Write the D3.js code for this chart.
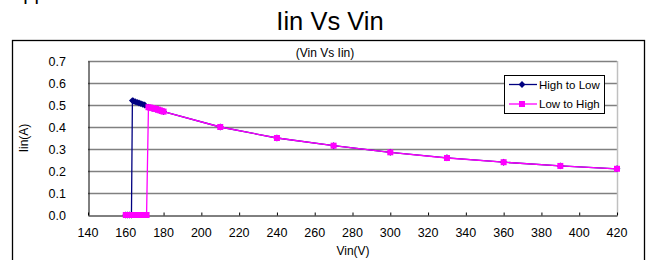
<!DOCTYPE html>
<html>
<head>
<meta charset="utf-8">
<script src="https://cdn.jsdelivr.net/npm/d3@7"></script>
<style>
  body { margin:0; background:#fff; }
  svg text { font-family: Arial, "Liberation Sans", sans-serif; fill:#000; }
</style>
</head>
<body>
<svg id="chart" width="648" height="260"></svg>
<script>
// ---- data ----
let xTicks = [140,160,180,200,220,240,260,280,300,320,340,360,380,400,420];
let yTicks = [0,0.1,0.2,0.3,0.4,0.5,0.6,0.7];

let hiLoVin = [420,390,360,330,300,270,240,210,180,178,176,174,172,170,169,168,167,166,165,164,163.5,163,162,161,160];
let hiLoIin = [0.21,0.223,0.24,0.26,0.285,0.315,0.35,0.40,0.47,0.475,0.48,0.485,0.49,0.50,0.503,0.506,0.509,0.512,0.515,0.518,0.52,0,0,0,0];

let loHiVin = [160,161,162,163,164,165,166,167,168,169,170,171,172,173,174,175,176,177,178,179,180,210,240,270,300,330,360,390,420];
let loHiIin = [0,0,0,0,0,0,0,0,0,0,0,0,0.49,0.488,0.486,0.484,0.482,0.479,0.476,0.473,0.47,0.40,0.35,0.315,0.285,0.259,0.24,0.223,0.21];

let seriesNames = ["High to Low","Low to High"];
let seriesColors = ["#000080","#ff00ff"];
//-----------------------------------

let svg = d3.select("#chart");

let x = d3.scaleLinear().domain([140,420]).range([88,617]);
let y = d3.scaleLinear().domain([0,0.7]).range([215,61]);

// leftover text from above (only descenders show)
svg.append("text").attr("x",10).attr("y",0).style("font-size","20px").text("Application");

svg.append("text").attr("x",330).attr("y",30).attr("text-anchor","middle")
   .style("font-size","25.5px").text("Iin Vs Vin");

// outer chart box
svg.append("rect").attr("x",12.5).attr("y",40.5).attr("width",632).attr("height",240)
   .attr("fill","none").attr("stroke","#000").attr("stroke-width",1.3);

svg.append("text").attr("x",325).attr("y",57).attr("text-anchor","middle")
   .style("font-size","12px").text("(Vin Vs Iin)");

// gridlines
svg.append("g").selectAll("line").data(yTicks.filter(function(d){ return d > 0; }))
  .enter().append("line")
    .attr("x1",x(140)).attr("x2",x(420))
    .attr("y1",function(d){ return Math.round(y(d))+0.5; })
    .attr("y2",function(d){ return Math.round(y(d))+0.5; })
    .attr("stroke","#808080").attr("stroke-width",1.3);

// plot right border
svg.append("line").attr("x1",617.5).attr("x2",617.5).attr("y1",y(0.7)).attr("y2",y(0))
   .attr("stroke","#c0c0c0").attr("stroke-width",1.5);

// x axis (ticks inside)
let xAxis = svg.append("g").attr("transform","translate(0,"+(Math.round(y(0))+0.5)+")")
  .call(d3.axisTop(x).tickValues(xTicks).tickSize(3).tickSizeOuter(0).tickFormat(""));
xAxis.select(".domain").attr("stroke","#000");
xAxis.selectAll("text").remove();

svg.append("g").selectAll("text").data(xTicks).enter().append("text")
  .attr("x",function(d){ return x(d); }).attr("y",237)
  .attr("text-anchor","middle").style("font-size","12.5px")
  .text(function(d){ return d; });

// y axis
let yAxis = svg.append("g").attr("transform","translate("+(Math.round(x(140))+0.5)+",0)")
  .call(d3.axisLeft(y).tickValues(yTicks).tickSize(0).tickSizeOuter(0).tickFormat(""));
yAxis.select(".domain").attr("stroke","#000");

svg.append("g").selectAll("text").data(yTicks).enter().append("text")
  .attr("x",66).attr("y",function(d){ return y(d)+4.5; })
  .attr("text-anchor","end").style("font-size","12.5px")
  .text(function(d){ return d3.format(".1f")(d); });

svg.append("text").attr("transform","translate(28,138) rotate(-90)")
   .attr("text-anchor","middle").style("font-size","12px").text("Iin(A)");
svg.append("text").attr("x",353).attr("y",255).attr("text-anchor","middle")
   .style("font-size","12px").text("Vin(V)");

// series
let line = d3.line().x(function(d){ return x(d[0]); }).y(function(d){ return y(d[1]); });
let hiLo = hiLoVin.map(function(v,i){ return [v,hiLoIin[i]]; });
let loHi = loHiVin.map(function(v,i){ return [v,loHiIin[i]]; });

svg.append("path").datum(hiLo).attr("d",line).attr("fill","none")
   .attr("stroke",seriesColors[0]).attr("stroke-width",1.3);
svg.append("g").selectAll("path").data(hiLo).enter().append("path")
   .attr("d",d3.symbol().type(d3.symbolDiamond2).size(30))
   .attr("transform",function(d){ return "translate("+x(d[0])+","+y(d[1])+")"; })
   .attr("fill",seriesColors[0]);

svg.append("path").datum(loHi).attr("d",line).attr("fill","none")
   .attr("stroke",seriesColors[1]).attr("stroke-width",1.3);
svg.append("g").selectAll("rect").data(loHi).enter().append("rect")
   .attr("x",function(d){ return x(d[0])-3; }).attr("y",function(d){ return y(d[1])-3; })
   .attr("width",6).attr("height",6).attr("fill",seriesColors[1]);

// legend
let lg = svg.append("g");
lg.append("rect").attr("x",504.5).attr("y",75.5).attr("width",100).attr("height",38)
  .attr("fill","#fff").attr("stroke","#000").attr("stroke-width",1);
seriesNames.forEach(function(name,i){
  let ly = 84.5 + i*19.5;
  lg.append("line").attr("x1",509).attr("x2",537).attr("y1",ly).attr("y2",ly)
    .attr("stroke",seriesColors[i]).attr("stroke-width",1.3);
  if (i == 0) {
    lg.append("path").attr("d",d3.symbol().type(d3.symbolDiamond2).size(30))
      .attr("transform","translate(522,"+ly+")").attr("fill",seriesColors[i]);
  } else {
    lg.append("rect").attr("x",519).attr("y",ly-3).attr("width",6).attr("height",6)
      .attr("fill",seriesColors[i]);
  }
  lg.append("text").attr("x",539).attr("y",ly+4).style("font-size","11.5px").text(name);
});
</script>
</body>
</html>
